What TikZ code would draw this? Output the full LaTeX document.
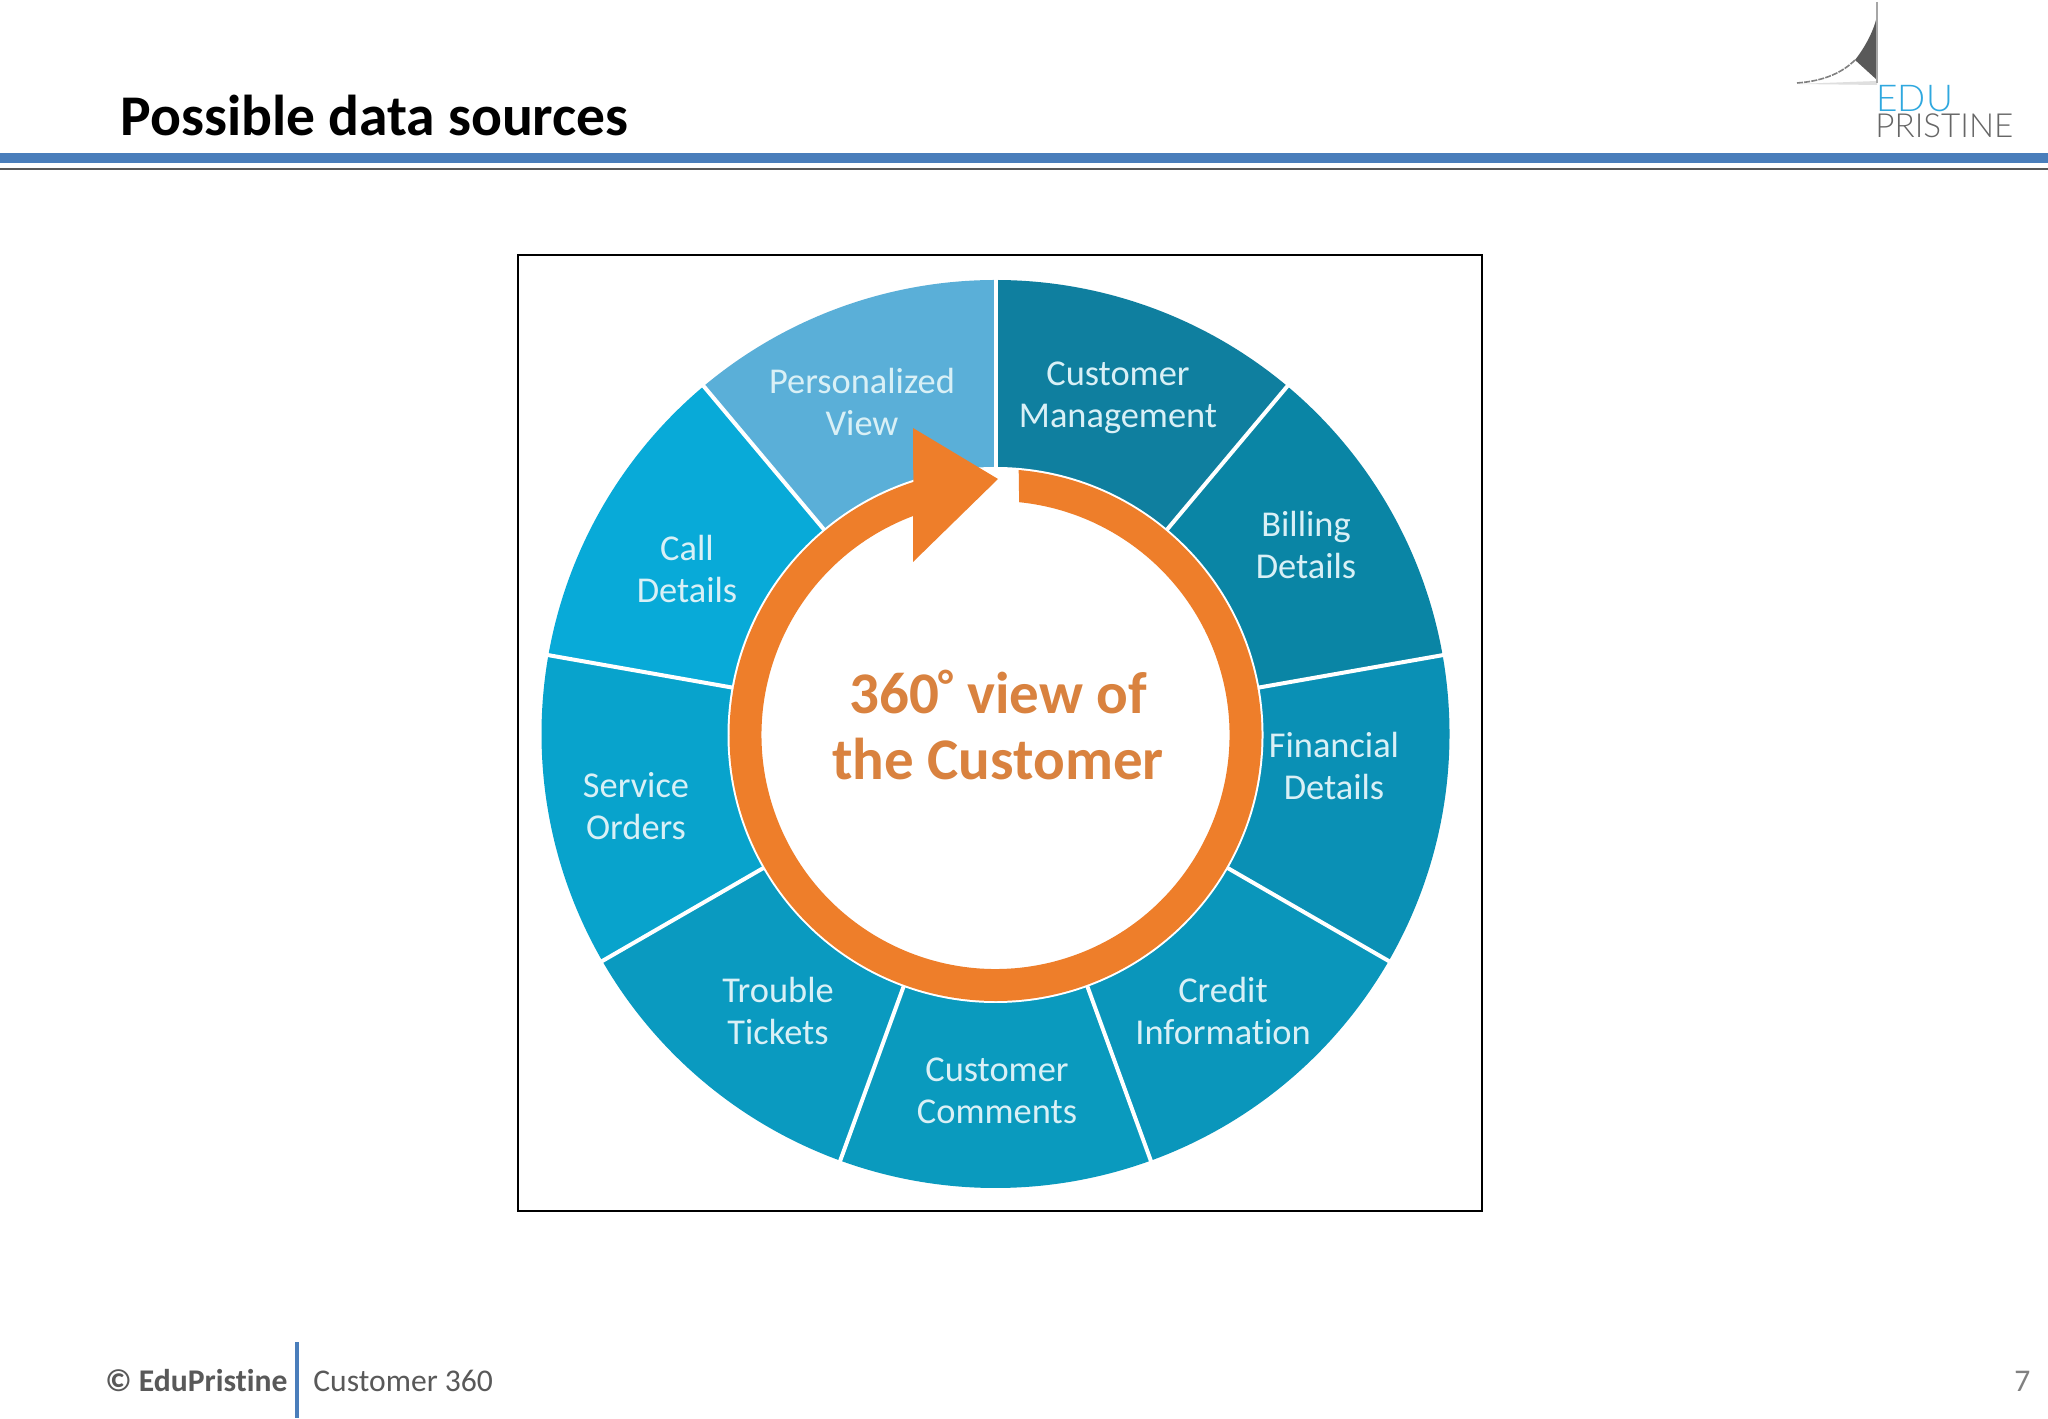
\documentclass[tikz,border=0pt]{standalone}
\usepackage{fontspec}
\usetikzlibrary{calc}
\setmainfont{Carlito}[Ligatures=NoCommon]
\newfontfamily\logofont{Lato}[UprightFont={* Light}]
\definecolor{ruleblue}{HTML}{4A7EBB}
\definecolor{ringorange}{HTML}{EE7E2A}
\definecolor{labelcol}{HTML}{D9F0F6}
\definecolor{centercol}{HTML}{D9823F}
\definecolor{footgrey}{HTML}{595959}
\definecolor{logoblue}{HTML}{2FA8DF}
\tikzset{
  wedgelabel/.style={text=labelcol,align=center,inner sep=0pt,font=\fontsize{18.2}{21}\selectfont},
  centerlabel/.style={text=centercol,align=center,inner sep=0pt,font=\fontsize{29.5}{33}\selectfont\bfseries},
  footlabel/.style={text=footgrey,anchor=base west,inner sep=0pt,font=\fontsize{15.8}{18}\selectfont},
  divider/.style={draw=white,line width=2pt}
}
\begin{document}
\begin{tikzpicture}[x=0.5pt,y=0.5pt]
\useasboundingbox (0,0) rectangle (2048,1418);
\fill[white] (0,0) rectangle (2048,1418);
% header
\node[anchor=base west,inner sep=0pt,font=\fontsize{28.8}{32}\selectfont\bfseries] (title) at (120,1282) {Possible data sources};
\fill[ruleblue] (0,1255) rectangle (2048,1265);
\fill[footgrey] (0,1247.5) rectangle (2048,1249.5);
% logo
\fill[gray!25] (1797,1334) -- (1877,1337) -- (1877,1333) -- cycle;
\draw[gray,line width=0.8pt,dash pattern=on 3pt off 0.6pt] (1797,1335) .. controls (1825,1337) and (1843,1346) .. (1855,1358);
\fill[black!65] (1855,1358) .. controls (1866,1372) and (1875,1390) .. (1877,1403) -- (1877,1338) -- cycle;
\draw[gray!70,line width=0.8pt] (1877,1416) -- (1877,1335);
\node[anchor=base west,inner sep=0pt,text=logoblue,font=\logofont\fontsize{18.5}{20}\selectfont] (logoedu) at (1876,1306) {EDU};
\node[anchor=base west,inner sep=0pt,text=black!60,font=\logofont\fontsize{16.6}{18}\selectfont] (logopri) at (1875,1280) {PRISTINE};
% frame
\draw[black,line width=1pt] (518,207) rectangle (1482,1163);
% wheel
\coordinate (wc) at (995.5,684);
\coordinate (rc) at (995.5,683);
\foreach \a/\c in {130/5AAFD8,90/0F7F9F,50/0A85A5,10/0A90B5,-30/0A96BB,-70/0A9ABE,-110/0A9AC0,-150/08A3CC,170/08AAD8}{
  \definecolor{wedgecol}{HTML}{\c}
  \fill[wedgecol] (wc) -- +(\a:454) arc[start angle=\a,end angle=\a-40,radius=454] -- cycle;
}
\foreach \a in {90,50,10,-30,-70,-110,-150,170,130}{
  \draw[divider] (wc) -- +(\a:456);
}
\fill[white] (rc) circle[radius=268];
\fill[ringorange] (rc) ++(85:266) arc[start angle=85,end angle=-252,radius=266]
  -- (913,990) -- (998,939) -- (913,856)
  -- ($(rc)+(110.6:234)$) arc[start angle=-249.4,end angle=84.2,radius=234] -- cycle;
% labels
\node[wedgelabel] (pv) at (862,1016) {Personalized\\View};
\node[wedgelabel] (cm) at (1118,1020) {Customer\\Management};
\node[wedgelabel] (bd) at (1306,873) {Billing\\Details};
\node[wedgelabel] (fd) at (1334,652) {Financial\\Details};
\node[wedgelabel] (ci) at (1223,407) {Credit\\Information};
\node[wedgelabel] (cc) at (997,327) {Customer\\Comments};
\node[wedgelabel] (tt) at (778,407) {Trouble\\Tickets};
\node[wedgelabel] (so) at (636,612) {Service\\Orders};
\node[wedgelabel] (cd) at (687,849) {Call\\Details};
\node[centerlabel] (center) at (998,693) {360{\fontsize{22}{22}\selectfont\raisebox{0.3em}{°}} view of\\the Customer};
% footer
\node[footlabel,font=\fontsize{15.8}{18}\selectfont\bfseries] (foota) at (105,27) {© EduPristine};
\fill[ruleblue] (295,0) rectangle (299,76);
\node[footlabel] (footb) at (313,27) {Customer 360};
\node[footlabel,text=black!50] (page) at (2014,27) {7};
\end{tikzpicture}
\end{document}
